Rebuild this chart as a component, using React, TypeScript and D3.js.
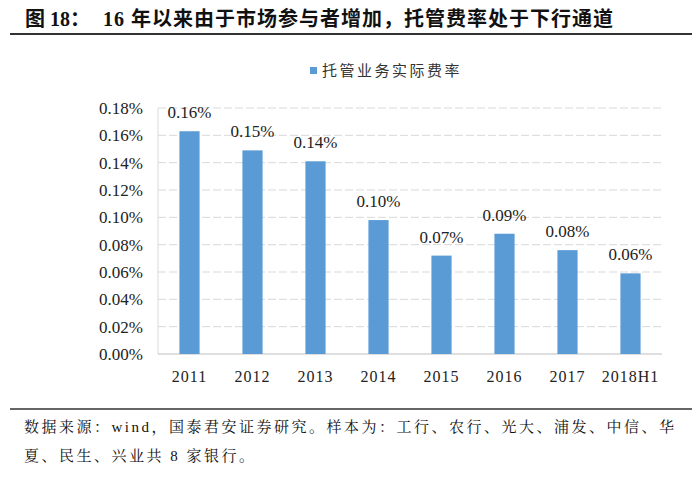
import React, { useEffect, useRef } from 'react'
import * as d3 from 'd3'

// chart data
const categories = ['2011', '2012', '2013', '2014', '2015', '2016', '2017', '2018H1']
const feeRates = [0.163, 0.149, 0.141, 0.098, 0.072, 0.088, 0.076, 0.059]
const valueLabels = ['0.16%', '0.15%', '0.14%', '0.10%', '0.07%', '0.09%', '0.08%', '0.06%']
const yTicks = [0, 0.02, 0.04, 0.06, 0.08, 0.1, 0.12, 0.14, 0.16, 0.18]

const titleLabel = '图 18：'
const titleText = '16 年以来由于市场参与者增加，托管费率处于下行通道'
const legendText = '托管业务实际费率'
const noteLine1 = '数据来源：wind，国泰君安证券研究。样本为：工行、农行、光大、浦发、中信、华'
const noteLine2 = '夏、民生、兴业共 8 家银行。'

const W = 700
const H = 477
const serif = '"Liberation Serif", "Times New Roman", "Noto Serif CJK SC", "Noto Sans CJK SC", serif'
const cjkBold = '"Liberation Serif", "Noto Sans CJK SC", sans-serif'
const barColor = '#5b9bd5'

const App: React.FC = () => {
  const svgRef = useRef<SVGSVGElement>(null)

  useEffect(() => {
    if (!svgRef.current) return
    const svg = d3.select(svgRef.current)
    svg.selectAll('*').remove()

    const left = 158
    const right = 662
    const top = 108
    const bottom = 354

    const x = d3.scaleBand().domain(categories).range([left, right]).paddingInner(0.68).paddingOuter(0.34)
    const y = d3.scaleLinear().domain([0, 0.18]).range([bottom, top])

    svg.append('rect').attr('width', W).attr('height', H).attr('fill', '#fff')

    // Title
    svg.append('text')
      .attr('x', 25)
      .attr('y', 26)
      .style('font-family', cjkBold)
      .style('font-size', '20px')
      .style('font-weight', 'bold')
      .style('fill', '#111')
      .text(titleLabel)
    svg.append('text')
      .attr('x', 103)
      .attr('y', 26)
      .attr('textLength', 510)
      .attr('lengthAdjust', 'spacing')
      .style('font-family', cjkBold)
      .style('font-size', '20px')
      .style('font-weight', 'bold')
      .style('fill', '#111')
      .text(titleText)

    svg.append('line')
      .attr('x1', 10).attr('x2', 692)
      .attr('y1', 34).attr('y2', 34)
      .attr('stroke', '#333').attr('stroke-width', 2)

    // Legend
    svg.append('rect')
      .attr('x', 310).attr('y', 67)
      .attr('width', 7).attr('height', 7)
      .attr('fill', barColor)
    svg.append('text')
      .attr('x', 322).attr('y', 76)
      .style('font-family', '"Noto Sans CJK SC", sans-serif')
      .style('font-size', '15px')
      .style('letter-spacing', '2.5px')
      .style('fill', '#333')
      .text(legendText)

    // Gridlines
    svg.append('g')
      .selectAll('line')
      .data(yTicks.slice(1))
      .enter()
      .append('line')
      .attr('x1', left).attr('x2', right)
      .attr('y1', d => y(d)).attr('y2', d => y(d))
      .attr('stroke', '#d9d9d9')
      .attr('stroke-width', 1)
      .attr('stroke-dasharray', '8,3')

    // Axes lines
    svg.append('line')
      .attr('x1', left).attr('x2', left)
      .attr('y1', top).attr('y2', bottom)
      .attr('stroke', '#d9d9d9')
    svg.append('line')
      .attr('x1', left).attr('x2', right)
      .attr('y1', bottom).attr('y2', bottom)
      .attr('stroke', '#bfbfbf')

    // Y tick labels
    svg.append('g')
      .selectAll('text')
      .data(yTicks)
      .enter()
      .append('text')
      .attr('x', 143)
      .attr('y', d => y(d) + 6)
      .attr('text-anchor', 'end')
      .style('font-family', serif)
      .style('font-size', '17px')
      .style('fill', '#222')
      .text(d => `${d.toFixed(2)}%`)

    // Bars
    svg.append('g')
      .selectAll('rect')
      .data(feeRates)
      .enter()
      .append('rect')
      .attr('x', (_, i) => x(categories[i]) ?? 0)
      .attr('width', x.bandwidth())
      .attr('y', d => y(d))
      .attr('height', d => bottom - y(d))
      .attr('fill', barColor)

    // Value labels
    svg.append('g')
      .selectAll('text')
      .data(feeRates)
      .enter()
      .append('text')
      .attr('x', (_, i) => (x(categories[i]) ?? 0) + x.bandwidth() / 2)
      .attr('y', d => y(d) - 13)
      .attr('text-anchor', 'middle')
      .style('font-family', serif)
      .style('font-size', '17px')
      .style('fill', '#222')
      .text((_, i) => valueLabels[i])

    // X labels
    svg.append('g')
      .selectAll('text')
      .data(categories)
      .enter()
      .append('text')
      .attr('x', d => (x(d) ?? 0) + x.bandwidth() / 2)
      .attr('y', 382)
      .attr('text-anchor', 'middle')
      .style('font-family', serif)
      .style('font-size', '16px')
      .style('letter-spacing', '1px')
      .style('fill', '#222')
      .text(d => d)

    // Footer
    svg.append('line')
      .attr('x1', 10).attr('x2', 692)
      .attr('y1', 409).attr('y2', 409)
      .attr('stroke', '#333').attr('stroke-width', 1.5)

    svg.append('text')
      .attr('x', 24).attr('y', 432)
      .attr('textLength', 650)
      .attr('lengthAdjust', 'spacing')
      .style('font-family', serif)
      .style('font-size', '15px')
      .style('fill', '#111')
      .text(noteLine1)
    svg.append('text')
      .attr('x', 24).attr('y', 461)
      .style('font-family', serif)
      .style('font-size', '15px')
      .style('letter-spacing', '2.5px')
      .style('fill', '#111')
      .text(noteLine2)
  }, [])

  return (
    <div style={{ position: 'fixed', left: 0, top: 0 }}>
      <svg ref={svgRef} width={W} height={H} />
    </div>
  )
}

export default App
